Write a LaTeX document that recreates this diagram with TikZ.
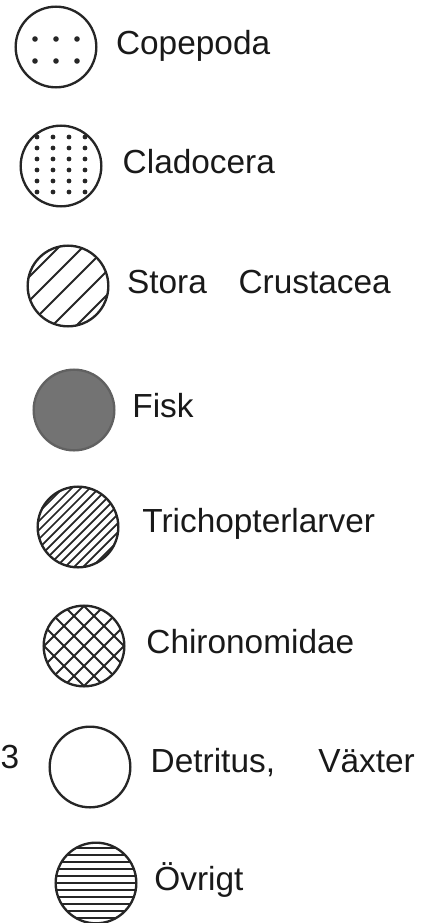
\documentclass[tikz,border=0pt]{standalone}
\usepackage{fontspec}
\setmainfont{Liberation Sans}
\usetikzlibrary{positioning}

\begin{document}
\begin{tikzpicture}[
    x=0.03cm, y=-0.03cm,
    % symbol circles
    key_circle/.style={circle, draw=black!85, line width=2pt, minimum size=2.42cm, inner sep=0pt},
    sparse_dots/.style={key_circle, path picture={
        \begin{scope}[shift={(path picture bounding box.center)}]
            \foreach \dx in {-21,0,21} \foreach \dy in {-8,14} \fill[black!85] (\dx,\dy) circle (2.8);
        \end{scope}}},
    grid_dots/.style={key_circle, path picture={
        \begin{scope}[shift={(path picture bounding box.center)}]
            \foreach \dx in {-24,-8,8,24} \foreach \dy in {-29,-18,...,33} \fill[black!85] (\dx,\dy) circle (2.4);
        \end{scope}}},
    wide_hatch/.style={key_circle, path picture={
        \begin{scope}[shift={(path picture bounding box.center)}]
            \foreach \k in {-72,-48,...,72} \draw[line width=1.7pt, black!85] (-60,\k+60) -- (60,\k-60);
        \end{scope}}},
    solid_grey/.style={key_circle, draw=black!62, fill=black!55},
    dense_hatch/.style={key_circle, path picture={
        \begin{scope}[shift={(path picture bounding box.center)}]
            \foreach \k in {-72,-63,...,72} \draw[line width=1.5pt, black!85] (-60,\k+60) -- (60,\k-60);
        \end{scope}}},
    cross_hatch/.style={key_circle, path picture={
        \begin{scope}[shift={(path picture bounding box.center)}]
            \foreach \k in {-80,-60,...,80} {
                \draw[line width=1.6pt, black!85] (-60,\k+60) -- (60,\k-60);
                \draw[line width=1.6pt, black!85] (-60,\k-60) -- (60,\k+60);
            }
        \end{scope}}},
    line_fill/.style={key_circle, path picture={
        \begin{scope}[shift={(path picture bounding box.center)}]
            \foreach \k in {-42,-35,...,42} \draw[line width=1.3pt, black!85] (-50,\k) -- (50,\k);
        \end{scope}}},
    % labels
    key_text/.style={inner sep=0pt, text height=0.75em, text depth=0.25em, yshift=-4pt, font=\fontsize{28.5}{32}\selectfont, text=black!90}
]
    \useasboundingbox (0,0) rectangle (445,923);

    % =========================================================
    % SYMBOLS
    % =========================================================
    \node [sparse_dots] (cope) at (56, 47) {};
    \node [grid_dots] (clad) at (61, 166) {};
    \node [wide_hatch] (crus) at (68, 286) {};
    \node [solid_grey] (fisk) at (74, 410) {};
    \node [dense_hatch] (tric) at (78, 527) {};
    \node [cross_hatch] (chir) at (84, 646) {};
    \node [key_circle] (detr) at (90, 767) {};
    \node [line_fill] (ovri) at (96, 883) {};

    % =========================================================
    % LABELS
    % =========================================================
    \node [key_text, right=0.55cm of cope] (cope_t) {Copepoda};
    \node [key_text, right=0.6cm of clad] (clad_t) {Cladocera};
    \node [key_text, right=0.52cm of crus] (crus_t) {Stora\hspace{0.95cm}Crustacea};
    \node [key_text, right=0.5cm of fisk] (fisk_t) {Fisk};
    \node [key_text, right=0.68cm of tric, yshift=2pt] (tric_t) {Trichopterlarver};
    \node [key_text, right=0.62cm of chir] (chir_t) {Chironomidae};
    \node [key_text, right=0.57cm of detr, yshift=2pt] (detr_t) {Detritus,\hspace{1.3cm}Växter};
    \node [key_text, right=0.5cm of ovri] (ovri_t) {Övrigt};
    \node [key_text, anchor=base west, yshift=4pt] (num) at (0.5, 768) {3};
\end{tikzpicture}
\end{document}
